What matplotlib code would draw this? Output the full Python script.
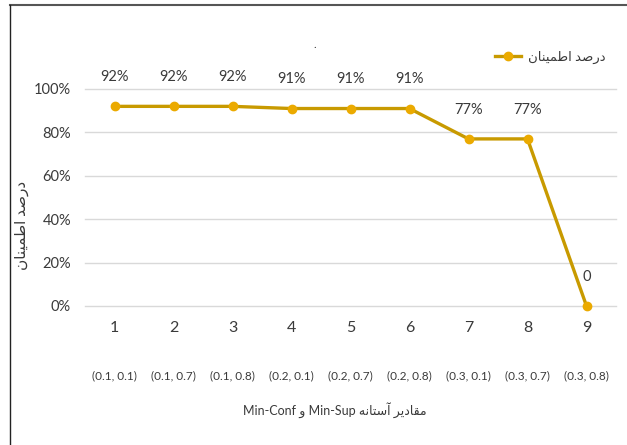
import matplotlib.pyplot as plt
from matplotlib.lines import Line2D
from matplotlib.ticker import PercentFormatter

# داده‌ها
steps = [1, 2, 3, 4, 5, 6, 7, 8, 9]
pairs = ["(0.1, 0.1)", "(0.1, 0.7)", "(0.1, 0.8)", "(0.2, 0.1)", "(0.2, 0.7)",
         "(0.2, 0.8)", "(0.3, 0.1)", "(0.3, 0.7)", "(0.3, 0.8)"]
confidence = [0.92, 0.92, 0.92, 0.91, 0.91, 0.91, 0.77, 0.77, 0.0]
value_labels = ["92%", "92%", "92%", "91%", "91%", "91%", "77%", "77%", "0"]
y_title = "درصد اطمینان"
x_title = "مقادیر آستانه Min-Sup و Min-Conf"

# شکل‌دهی ساده حروف فارسی (matplotlib خودش این کار را نمی‌کند)
# حرف: (تنها، پایانی، آغازی، میانی)
FORMS = {
    'ا': ('\uFE8D', '\uFE8E', None, None),
    'آ': ('\uFE81', '\uFE82', None, None),
    'د': ('\uFEA9', '\uFEAA', None, None),
    'ر': ('\uFEAD', '\uFEAE', None, None),
    'و': ('\uFEED', '\uFEEE', None, None),
    'ص': ('\uFEB9', '\uFEBA', '\uFEBB', '\uFEBC'),
    'ط': ('\uFEC1', '\uFEC2', '\uFEC3', '\uFEC4'),
    'م': ('\uFEE1', '\uFEE2', '\uFEE3', '\uFEE4'),
    'ن': ('\uFEE5', '\uFEE6', '\uFEE7', '\uFEE8'),
    'ق': ('\uFED5', '\uFED6', '\uFED7', '\uFED8'),
    'س': ('\uFEB1', '\uFEB2', '\uFEB3', '\uFEB4'),
    'ت': ('\uFE95', '\uFE96', '\uFE97', '\uFE98'),
    'ه': ('\uFEE9', '\uFEEA', '\uFEEB', '\uFEEC'),
    'ی': ('\uFBFC', '\uFBFD', '\uFBFE', '\uFBFF'),
}


def shape_word(word):
    out = []
    for i, ch in enumerate(word):
        if ch not in FORMS:
            out.append(ch)
            continue
        iso, fin, ini, med = FORMS[ch]
        prev_j = i > 0 and word[i - 1] in FORMS and FORMS[word[i - 1]][2] is not None
        next_j = i < len(word) - 1 and word[i + 1] in FORMS and ini is not None
        if prev_j and next_j:
            out.append(med)
        elif prev_j:
            out.append(fin)
        elif next_j:
            out.append(ini)
        else:
            out.append(iso)
    return ''.join(out)


def rtl(text):
    words = []
    for w in reversed(text.split(' ')):
        if any(c in FORMS for c in w):
            words.append(shape_word(w)[::-1])
        else:
            words.append(w)
    return ' '.join(words)


plt.rcParams['font.family'] = ['Lato', 'DejaVu Sans']
line_color = '#C89A00'
marker_color = '#EBAA00'
text_color = '#3A3A3A'

fig = plt.figure(figsize=(6.27, 4.45), dpi=100)
ax = fig.add_axes([85 / 627, 0.3124, 531 / 627, 0.4876])

ax.plot(steps, confidence, color=line_color, linewidth=2.4, marker='o',
        markersize=6, markerfacecolor=marker_color, markeredgecolor=marker_color,
        label=rtl(y_title), clip_on=False, zorder=3)

for x, y, t in zip(steps, confidence, value_labels):
    ax.annotate(t, (x, y), xytext=(0, 21), textcoords='offset points',
                ha='center', va='center', fontsize=10.5, color=text_color)

ax.set_xlim(0.5, 9.5)
ax.set_ylim(0, 1)
ax.set_yticks([0, 0.2, 0.4, 0.6, 0.8, 1.0])
ax.yaxis.set_major_formatter(PercentFormatter(1.0, decimals=0))
ax.set_xticks(steps)
ax.set_xticklabels([str(s) for s in steps], fontsize=11.5, color=text_color)
ax.tick_params(axis='y', labelsize=10.5, labelcolor=text_color, length=0, pad=10)
ax.tick_params(axis='x', length=0, pad=11)
ax.grid(axis='y', color='#D9D9D9', linewidth=1)
for gl in ax.get_ygridlines():
    gl.set_clip_on(False)
ax.set_axisbelow(True)
for s in ax.spines.values():
    s.set_visible(False)

# ردیف دوم برچسب‌ها
for x, p in zip(steps, pairs):
    ax.annotate(p, (x, 0), xycoords=('data', 'axes fraction'), xytext=(0, -50),
                textcoords='offset points', ha='center', va='center',
                fontsize=8.5, color=text_color)

fig.text(335 / 627, 1 - 410 / 445, rtl(x_title), ha='center', va='center',
         fontsize=9, color=text_color)
fig.text(22 / 627, 1 - 225 / 445, rtl(y_title), rotation=90, ha='center',
         va='center', fontsize=11, color=text_color)
fig.text(315 / 627, 1 - 45 / 445, '.', ha='center', va='center', fontsize=8,
         color=text_color)

fig.legend(loc='center left', bbox_to_anchor=(495 / 627, 1 - 57 / 445),
           frameon=False, fontsize=9.5, handlelength=2.0, handletextpad=0.5,
           borderpad=0, borderaxespad=0, labelcolor=text_color)

# قاب بیرونی
fig.add_artist(Line2D([10 / 627, 1], [1 - 5 / 445, 1 - 5 / 445],
                      color='#555555', linewidth=1.5, transform=fig.transFigure))
fig.add_artist(Line2D([10 / 627, 10 / 627], [0, 1 - 5 / 445],
                      color='#222222', linewidth=1.0, transform=fig.transFigure))

fig.savefig('out.png', dpi=100)
